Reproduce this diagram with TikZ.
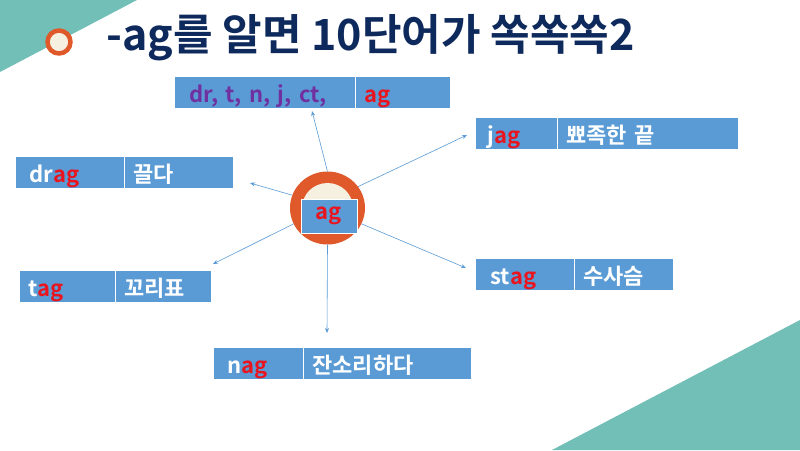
\documentclass[tikz,border=0pt]{standalone}
\usepackage{fontspec}
\setmainfont{Noto Sans CJK KR}[BoldFont={Noto Sans CJK KR Bold}]
\usetikzlibrary{shapes.geometric,arrows.meta}
\definecolor{teal1}{HTML}{72BFB8}
\definecolor{navy}{HTML}{0E2A5C}
\definecolor{boxblue}{HTML}{5B9BD5}
\definecolor{ringor}{HTML}{E0592B}
\definecolor{cream}{HTML}{F6F0E0}
\definecolor{purp}{HTML}{7030A0}
\definecolor{redag}{HTML}{E8141E}
\tikzset{
  cell/.style={anchor=north west, fill=boxblue, draw=white, line width=0.8pt,
    minimum height=32pt, inner xsep=9pt, inner ysep=6pt, text height=20pt, text depth=0pt,
    align=left, text=white, font=\bfseries\fontsize{22}{24}\selectfont},
  link/.style={draw=boxblue, line width=0.6pt, -{Stealth[length=5pt,width=4pt]}}
}
\newcommand{\ag}{\textcolor{redag}{ag}}
\begin{document}
\begin{tikzpicture}[x=1pt,y=-1pt]
\useasboundingbox (0,0) rectangle (800,450);
\fill[white] (0,0) rectangle (800,450);
% background triangles
\fill[teal1] (0,0) -- (137,0) -- (0,72) -- cycle;
\fill[teal1] (552,450) -- (800,320) -- (800,450) -- cycle;
% bullet
\node[circle, draw=ringor, line width=4.5pt, fill=cream, minimum size=23pt, inner sep=0pt] (bullet) at (59,42) {};
% title
\node[anchor=base west, inner sep=0pt, text=navy, font=\bfseries\fontsize{43}{48}\selectfont] (title) at (106,50) {-ag를 알면 10단어가 쏙쏙쏙2};
% top box
\node[cell, text width=163pt, text=purp] (topL) at (174,76) {\hspace*{6pt}dr, t, n, j, ct,};
\node[cell, text width=77pt] (topR) at (355,76) {\ag};
% drag
\node[cell, text width=91pt] (dragL) at (15,156) {\hspace*{5pt}dr\ag};
\node[cell, text width=91pt] (dragR) at (124,156) {끌다};
% jag
\node[cell, text width=64pt] (jagL) at (475,117) {\hspace*{3pt}j\ag};
\node[cell, text width=163pt] (jagR) at (557,117) {뾰족한 끝};
% tag
\node[cell, text width=78pt] (tagL) at (19,270) {t\ag};
\node[cell, text width=78pt] (tagR) at (115,270) {꼬리표};
% stag
\node[cell, text width=81pt] (stagL) at (475,258) {\hspace*{6pt}st\ag};
\node[cell, text width=81pt] (stagR) at (574,258) {수사슴};
% nag
\node[cell, text width=72pt] (nagL) at (213,347) {\hspace*{5pt}n\ag};
\node[cell, text width=150pt] (nagR) at (303,347) {잔소리하다};
% center
\node[ellipse, fill=ringor, minimum width=75pt, minimum height=73pt, inner sep=0pt, outer sep=0pt] (ring) at (327.5,208) {};
\node[ellipse, fill=cream, minimum width=51pt, minimum height=50pt, inner sep=0pt] (inner) at (327.5,208) {};
\node[fill=boxblue, draw=white, line width=1pt, minimum width=56pt, minimum height=34pt, inner sep=0pt,
  text=redag, font=\bfseries\fontsize{22}{24}\selectfont] (core) at (329,216) {ag};
% arrow end points
\coordinate (eTop) at (312,111);
\coordinate (eDrag) at (250,183);
\coordinate (eJag) at (467,135);
\coordinate (eTag) at (213,264);
\coordinate (eStag) at (466,268);
\coordinate (eNag) at (327,333);
\draw[link] (ring.north) -- (eTop);
\draw[link] (ring.160) -- (eDrag);
\draw[link] (ring.35) -- (eJag);
\draw[link] (ring.205) -- (eTag);
\draw[link] (ring.-25) -- (eStag);
\draw[link] (ring.south) -- (eNag);
\end{tikzpicture}
\end{document}
